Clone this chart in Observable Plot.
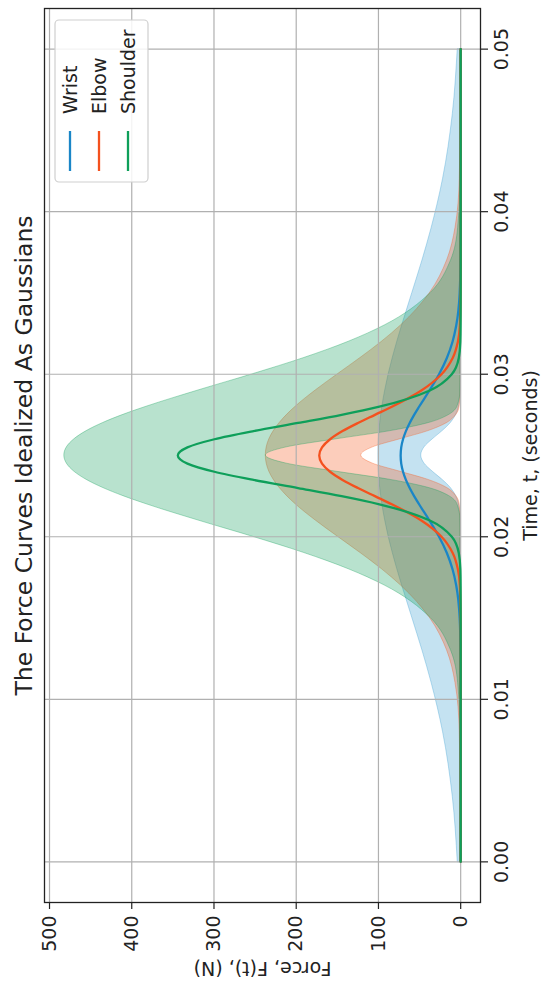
<!DOCTYPE html>
<html>
<head>
<meta charset="utf-8">
<script src="https://cdn.jsdelivr.net/npm/d3@7"></script>
<script src="https://cdn.jsdelivr.net/npm/@observablehq/plot@0.6"></script>
<style>
  html, body { margin: 0; padding: 0; background: #ffffff; }
  #chart svg { display: block; }
</style>
</head>
<body>
<div id="chart"></div>
<script>
// ---- data (time in seconds, force in N) ----
const time = [0, 0.004, 0.008, 0.011, 0.013, 0.015, 0.017, 0.018, 0.019, 0.020, 0.021, 0.022, 0.0225, 0.023, 0.0235, 0.024, 0.0245,
  0.025, 0.0255, 0.026, 0.0265, 0.027, 0.0275, 0.028, 0.029, 0.030, 0.031, 0.032, 0.033, 0.035, 0.037, 0.039, 0.042, 0.046, 0.05];

const wristHigh = [3.6, 9.6, 21.5, 35.3, 46.5, 58.8, 71.2, 77.1, 82.6, 87.6, 91.8, 95.3, 96.7, 97.9, 98.8, 99.5, 99.9,
  100, 99.9, 99.5, 98.8, 97.9, 96.7, 95.3, 91.8, 87.6, 82.6, 77.1, 71.2, 58.8, 46.5, 35.3, 21.5, 9.6, 3.6];
const wristMid = [0, 0, 0, 0, 0.2, 1.2, 5.4, 9.9, 16.8, 26.3, 38.0, 50.6, 56.6, 62.0, 66.6, 70.1, 72.3,
  73, 72.3, 70.1, 66.6, 62.0, 56.6, 50.6, 38.0, 26.3, 16.8, 9.9, 5.4, 1.2, 0.2, 0, 0, 0, 0];
const wristLow = [0, 0, 0, 0, 0, 0, 0, 0, 0, 0, 0.2, 2.1, 5.5, 12.0, 22.0, 33.9, 44.0,
  48, 44.0, 33.9, 22.0, 12.0, 5.5, 2.1, 0.2, 0, 0, 0, 0, 0, 0, 0, 0, 0, 0];

const elbowHigh = [0, 0.1, 1.1, 6.3, 16.5, 37.3, 72.6, 95.7, 121.8, 149.3, 176.3, 200.7, 211.1, 220.1, 227.3, 232.7, 235.9,
  237, 235.9, 232.7, 227.3, 220.1, 211.1, 200.7, 176.3, 149.3, 121.8, 95.7, 72.6, 37.3, 16.5, 6.3, 1.1, 0.1, 0];
const elbowMid = [0, 0, 0, 0, 0, 0.1, 1.0, 3.4, 9.7, 23.3, 47.8, 83.7, 104.3, 124.9, 143.7, 158.8, 168.6,
  172, 168.6, 158.8, 143.7, 124.9, 104.3, 83.7, 47.8, 23.3, 9.7, 3.4, 1.0, 0.1, 0, 0, 0, 0, 0];
const elbowLow = [0, 0, 0, 0, 0, 0, 0, 0, 0, 0, 0, 1.3, 5.3, 16.4, 39.3, 73.4, 106.8,
  121, 106.8, 73.4, 39.3, 16.4, 5.3, 1.3, 0, 0, 0, 0, 0, 0, 0, 0, 0, 0, 0];

const shoulderHigh = [0, 0, 0.3, 3.1, 11.7, 36.4, 92.3, 136.0, 190.2, 252.7, 318.9, 382.0, 410.2, 434.7, 454.8, 469.7, 478.9,
  482, 478.9, 469.7, 454.8, 434.7, 410.2, 382.0, 318.9, 252.7, 190.2, 136.0, 92.3, 36.4, 11.7, 3.1, 0.3, 0, 0];
const shoulderMid = [0, 0, 0, 0, 0, 0, 0.1, 0.4, 2.3, 10.8, 37.5, 98.9, 144.8, 197.7, 251.9, 299.5, 332.3,
  344, 332.3, 299.5, 251.9, 197.7, 144.8, 98.9, 37.5, 10.8, 2.3, 0.4, 0.1, 0, 0, 0, 0, 0, 0];
const shoulderLow = [0, 0, 0, 0, 0, 0, 0, 0, 0, 0, 0.2, 4.0, 13.9, 38.6, 85.4, 150.6, 211.6,
  237, 211.6, 150.6, 85.4, 38.6, 13.9, 4.0, 0.2, 0, 0, 0, 0, 0, 0, 0, 0, 0, 0];

const seriesNames = ["Wrist", "Elbow", "Shoulder"];
const forceTicks = [0, 100, 200, 300, 400, 500];
const timeTicks = [0, 0.01, 0.02, 0.03, 0.04, 0.05];
const titleText = "The Force Curves Idealized As Gaussians";
const timeLabel = "Time, t, (seconds)";
const forceLabel = "Force, F(t), (N)";

// ---- styling ----
const lineColors = {Wrist: "#1a86c7", Elbow: "#f4511e", Shoulder: "#0e9f5a"};
const fillColors = {Wrist: "#3a9fd0", Elbow: "#f55a1e", Shoulder: "#15a05c"};
const seriesData = {
  Wrist: [wristLow, wristMid, wristHigh],
  Elbow: [elbowLow, elbowMid, elbowHigh],
  Shoulder: [shoulderLow, shoulderMid, shoulderHigh]
};

const rows = seriesNames.flatMap(name => time.map((t, i) => ({
  series: name, t,
  lo: seriesData[name][0][i], mid: seriesData[name][1][i], hi: seriesData[name][2][i]
})));

const marks = [];
for (const name of seriesNames) {
  marks.push(Plot.areaX(rows.filter(r => r.series === name), {
    y: "t", x1: "lo", x2: "hi", curve: "monotone-y",
    fill: fillColors[name], fillOpacity: 0.3,
    stroke: fillColors[name], strokeOpacity: 0.35, strokeWidth: 1
  }));
}
marks.push(Plot.gridX(forceTicks, {stroke: "#b0b0b0", strokeOpacity: 1, strokeWidth: 1.2}));
marks.push(Plot.gridY(timeTicks, {stroke: "#b0b0b0", strokeOpacity: 1, strokeWidth: 1.2}));
for (const name of seriesNames) {
  marks.push(Plot.lineX(rows.filter(r => r.series === name), {
    y: "t", x: "mid", curve: "monotone-y", stroke: lineColors[name], strokeWidth: 2.3
  }));
}
marks.push(Plot.frame({stroke: "#222", strokeWidth: 1.3}));
marks.push(Plot.axisX(forceTicks, {anchor: "bottom", tickSize: 7, fill: "none", label: null, stroke: "#222", strokeWidth: 1.2}));
marks.push(Plot.axisY(timeTicks, {anchor: "right", tickSize: 7, fill: "none", label: null, stroke: "#222", strokeWidth: 1.2}));
marks.push(Plot.text(forceTicks, {
  x: d => d, text: d => String(d), frameAnchor: "bottom", dy: 13,
  rotate: -90, textAnchor: "end", lineAnchor: "middle", fontSize: 19, fill: "#222"
}));
marks.push(Plot.text(timeTicks, {
  y: d => d, text: d => d.toFixed(2), frameAnchor: "right", dx: 14,
  rotate: -90, textAnchor: "middle", lineAnchor: "top", fontSize: 19, fill: "#222"
}));
marks.push(Plot.text([titleText], {
  text: d => d, frameAnchor: "left", dx: -20, rotate: -90,
  textAnchor: "middle", lineAnchor: "middle", fontSize: 23.5, fill: "#222"
}));
marks.push(Plot.text([timeLabel], {
  text: d => d, frameAnchor: "right", dx: 50, rotate: -90,
  textAnchor: "middle", lineAnchor: "middle", fontSize: 19, fill: "#222"
}));
marks.push(Plot.text([forceLabel], {
  text: d => d, frameAnchor: "bottom", dy: 66, rotate: 180,
  textAnchor: "middle", lineAnchor: "middle", fontSize: 19, fill: "#222"
}));

const chart = Plot.plot({
  width: 544,
  height: 985,
  marginLeft: 44,
  marginRight: 64,
  marginTop: 8,
  marginBottom: 83,
  x: {domain: [-24.1, 506.1], reverse: true, axis: null},
  y: {domain: [-0.0025, 0.0525], axis: null},
  style: {fontFamily: "DejaVu Sans", fontSize: "19px", background: "#ffffff", color: "#222"},
  marks
});

// ---- legend (rotated like the rest of the figure) ----
const svg = d3.select(chart);
const lg = svg.append("g").attr("class", "legend");
lg.append("rect")
  .attr("x", 55).attr("y", 20).attr("width", 93).attr("height", 162).attr("rx", 4)
  .attr("fill", "#ffffff").attr("fill-opacity", 0.85)
  .attr("stroke", "#cfcfcf").attr("stroke-width", 1.2);
seriesNames.forEach((name, i) => {
  const cx = 70 + i * 29;
  lg.append("line")
    .attr("x1", cx).attr("x2", cx).attr("y1", 131).attr("y2", 171)
    .attr("stroke", lineColors[name]).attr("stroke-width", 2.3);
  lg.append("text")
    .attr("transform", `translate(${cx},114) rotate(-90)`)
    .attr("text-anchor", "start").attr("dominant-baseline", "central")
    .attr("font-family", "DejaVu Sans").attr("font-size", 19).attr("fill", "#222")
    .text(name);
});

document.getElementById("chart").appendChild(chart);
</script>
</body>
</html>
